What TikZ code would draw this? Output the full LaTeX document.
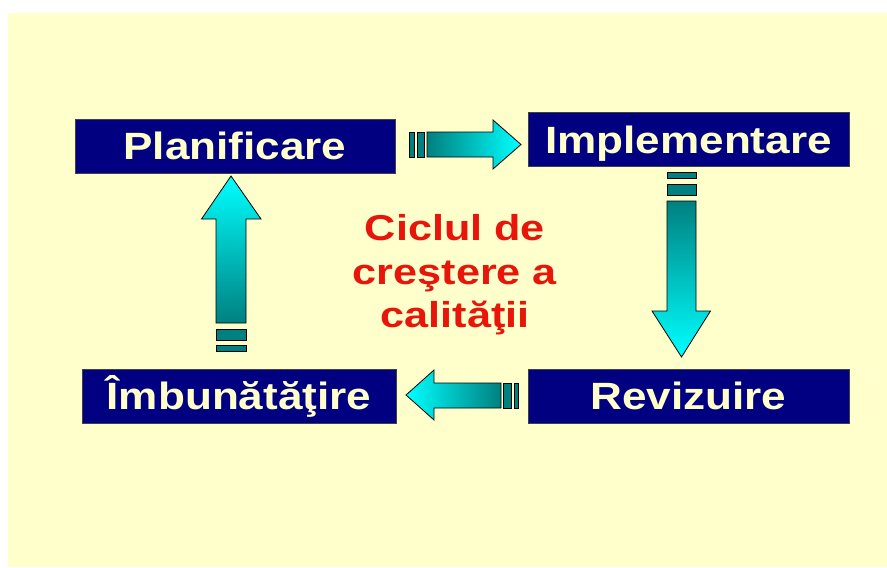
\documentclass[tikz,border=0pt]{standalone}
\usepackage{fontspec}
\setmainfont{Liberation Sans}
\newfontfamily\stagefont{Liberation Sans}[FakeStretch=1.16]
\newfontfamily\cyclefont{Liberation Sans}[FakeStretch=1.2]

\definecolor{slidebg}{RGB}{255,255,204}
\definecolor{boxnavy}{RGB}{0,0,128}
\definecolor{boxtext}{RGB}{255,255,204}
\definecolor{arrowteal}{RGB}{0,128,128}
\definecolor{arrowcyan}{RGB}{0,255,255}
\definecolor{cyclered}{RGB}{232,22,10}

\tikzset{
    stagebox/.style={draw=black!75, line width=0.6pt, fill=boxnavy,
        text=boxtext, inner sep=0pt, minimum height=40.5pt,
        text height=20.3pt, text depth=0pt,
        font=\stagefont\bfseries\fontsize{28.5}{30}\selectfont},
    cycletext/.style={text=cyclered, align=center,
        font=\cyclefont\bfseries\fontsize{27}{32.5}\selectfont},
    arrowedge/.style={draw=black, line width=0.6pt},
    stripe/.style={arrowedge, fill=arrowteal}
}

\begin{document}
\begin{tikzpicture}[x=0.75pt, y=-0.75pt]
    % slide background
    \useasboundingbox (0,0) rectangle (887,567);
    \fill[white] (0,0) rectangle (887,567);
    \fill[slidebg] (8,13) rectangle (887,567);

    % the four stages
    \node[stagebox, minimum width=240pt] (plan) at (235,146) {Planificare};
    \node[stagebox, minimum width=240.75pt] (impl) at (688.5,139.5) {Implementare};
    \node[stagebox, minimum width=240.75pt] (reviz) at (688.5,396) {Revizuire};
    \node[stagebox, minimum width=235.5pt] (imbun) at (239,396) {Îmbunătăţire};

    % Planificare -> Implementare
    \draw[stripe] (409,132) rectangle (414,157);
    \draw[stripe] (417,132) rectangle (424,157);
    \shade[arrowedge, left color=arrowteal, right color=arrowcyan]
        (427,132) -- (493,132) -- (493,120) -- (521,144.5)
        -- (493,169) -- (493,157) -- (427,157) -- cycle;

    % Implementare -> Revizuire
    \draw[stripe] (667,172) rectangle (696,178);
    \draw[stripe] (667,184) rectangle (696,195);
    \shade[arrowedge, top color=arrowteal, bottom color=arrowcyan]
        (667,201) -- (696,201) -- (696,311) -- (710.5,311) -- (681.5,357)
        -- (652,311) -- (667,311) -- cycle;

    % Revizuire -> Imbunatatire
    \draw[stripe] (514,383) rectangle (518,408);
    \draw[stripe] (503,383) rectangle (511,408);
    \shade[arrowedge, left color=arrowcyan, right color=arrowteal]
        (501,383) -- (434,383) -- (434,370) -- (406,395)
        -- (434,420) -- (434,408) -- (501,408) -- cycle;

    % Imbunatatire -> Planificare
    \draw[stripe] (216,345) rectangle (246,351);
    \draw[stripe] (216,329) rectangle (246,340);
    \shade[arrowedge, top color=arrowcyan, bottom color=arrowteal]
        (216,323) -- (246,323) -- (246,219) -- (261,219) -- (231,176)
        -- (201.5,219) -- (216,219) -- cycle;

    % title in the middle
    \node[cycletext] (cycle) at (455,275) {Ciclul de\\creştere a\\calităţii};
\end{tikzpicture}
\end{document}
